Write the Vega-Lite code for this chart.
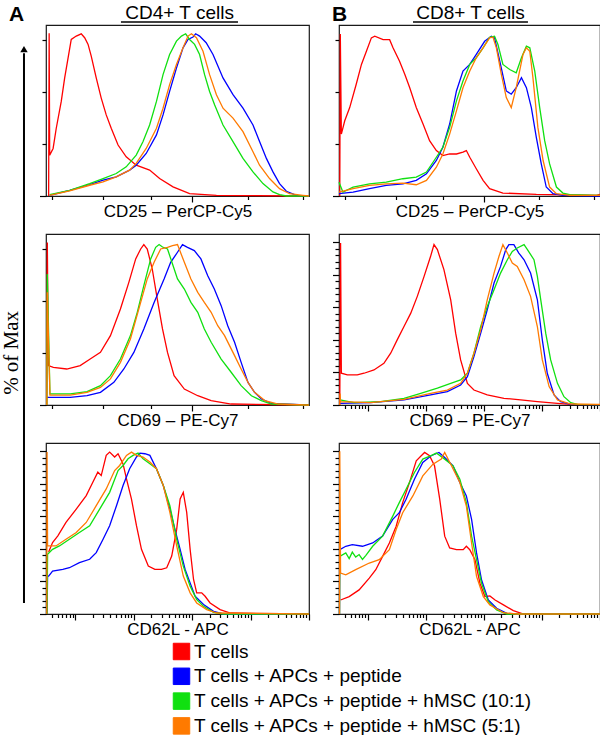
{
"$schema": "https://vega.github.io/schema/vega-lite/v6.json",
"padding": {"left": 0, "top": 3, "right": 0, "bottom": 0},
"background": "white",
"datasets": {"curves": [
{"panel":"A1","group":"T","x":1.0,"y":0},{"panel":"A1","group":"T","x":1.2,"y":99.9},{"panel":"A1","group":"T","x":1.4,"y":25.1},{"panel":"A1","group":"T","x":2.7,"y":29.2},{"panel":"A1","group":"T","x":3.9,"y":41.6},{"panel":"A1","group":"T","x":5.8,"y":58.1},{"panel":"A1","group":"T","x":7.1,"y":72.5},{"panel":"A1","group":"T","x":8.4,"y":84.8},{"panel":"A1","group":"T","x":9.6,"y":96.1},{"panel":"A1","group":"T","x":11.5,"y":98.2},{"panel":"A1","group":"T","x":13.4,"y":99.6},{"panel":"A1","group":"T","x":14.7,"y":97.2},{"panel":"A1","group":"T","x":16.0,"y":93.1},{"panel":"A1","group":"T","x":17.2,"y":85.9},{"panel":"A1","group":"T","x":19.1,"y":72.5},{"panel":"A1","group":"T","x":21.0,"y":60.1},{"panel":"A1","group":"T","x":22.9,"y":49.8},{"panel":"A1","group":"T","x":24.8,"y":41.6},{"panel":"A1","group":"T","x":27.4,"y":31.3},{"panel":"A1","group":"T","x":30.5,"y":24.1},{"panel":"A1","group":"T","x":34.3,"y":18.9},{"panel":"A1","group":"T","x":39.4,"y":15.9},{"panel":"A1","group":"T","x":43.2,"y":10.7},{"panel":"A1","group":"T","x":48.3,"y":5.6},{"panel":"A1","group":"T","x":54.6,"y":1.4},{"panel":"A1","group":"T","x":64.8,"y":0.4},{"panel":"A1","group":"T","x":100,"y":0},
{"panel":"A1","group":"P","x":1.4,"y":0.4},{"panel":"A1","group":"P","x":9.0,"y":3.5},{"panel":"A1","group":"P","x":16.6,"y":7.0},{"panel":"A1","group":"P","x":21.7,"y":9.7},{"panel":"A1","group":"P","x":26.7,"y":11.7},{"panel":"A1","group":"P","x":31.8,"y":15.9},{"panel":"A1","group":"P","x":34.3,"y":18.9},{"panel":"A1","group":"P","x":38.1,"y":26.1},{"panel":"A1","group":"P","x":42.0,"y":37.5},{"panel":"A1","group":"P","x":44.5,"y":49.8},{"panel":"A1","group":"P","x":47.0,"y":64.2},{"panel":"A1","group":"P","x":49.6,"y":78.6},{"panel":"A1","group":"P","x":52.1,"y":91.0},{"panel":"A1","group":"P","x":54.0,"y":96.1},{"panel":"A1","group":"P","x":55.9,"y":97.6},{"panel":"A1","group":"P","x":56.9,"y":99.6},{"panel":"A1","group":"P","x":58.4,"y":98.2},{"panel":"A1","group":"P","x":60.9,"y":94.1},{"panel":"A1","group":"P","x":63.5,"y":86.9},{"panel":"A1","group":"P","x":67.3,"y":72.5},{"panel":"A1","group":"P","x":71.1,"y":62.2},{"panel":"A1","group":"P","x":74.9,"y":53.9},{"panel":"A1","group":"P","x":78.7,"y":43.6},{"panel":"A1","group":"P","x":81.2,"y":33.4},{"panel":"A1","group":"P","x":83.8,"y":23.1},{"panel":"A1","group":"P","x":86.3,"y":14.8},{"panel":"A1","group":"P","x":88.8,"y":7.6},{"panel":"A1","group":"P","x":91.4,"y":2.9},{"panel":"A1","group":"P","x":95.2,"y":0.4},{"panel":"A1","group":"P","x":100,"y":0},
{"panel":"A1","group":"H10","x":1.4,"y":0.8},{"panel":"A1","group":"H10","x":9.0,"y":3.5},{"panel":"A1","group":"H10","x":16.6,"y":7.6},{"panel":"A1","group":"H10","x":21.7,"y":10.7},{"panel":"A1","group":"H10","x":26.7,"y":13.8},{"panel":"A1","group":"H10","x":30.5,"y":17.9},{"panel":"A1","group":"H10","x":34.3,"y":25.1},{"panel":"A1","group":"H10","x":36.9,"y":33.4},{"panel":"A1","group":"H10","x":39.4,"y":43.6},{"panel":"A1","group":"H10","x":42.0,"y":58.1},{"panel":"A1","group":"H10","x":44.5,"y":74.5},{"panel":"A1","group":"H10","x":47.0,"y":86.9},{"panel":"A1","group":"H10","x":49.6,"y":95.1},{"panel":"A1","group":"H10","x":51.5,"y":98.2},{"panel":"A1","group":"H10","x":53.1,"y":99.6},{"panel":"A1","group":"H10","x":54.6,"y":96.1},{"panel":"A1","group":"H10","x":56.5,"y":93.1},{"panel":"A1","group":"H10","x":58.4,"y":86.9},{"panel":"A1","group":"H10","x":60.3,"y":74.5},{"panel":"A1","group":"H10","x":62.2,"y":64.2},{"panel":"A1","group":"H10","x":64.1,"y":56.0},{"panel":"A1","group":"H10","x":67.3,"y":43.6},{"panel":"A1","group":"H10","x":71.1,"y":33.4},{"panel":"A1","group":"H10","x":74.9,"y":23.1},{"panel":"A1","group":"H10","x":78.7,"y":14.8},{"panel":"A1","group":"H10","x":82.5,"y":7.6},{"panel":"A1","group":"H10","x":86.3,"y":2.5},{"panel":"A1","group":"H10","x":88.8,"y":0.8},{"panel":"A1","group":"H10","x":91.4,"y":0},{"panel":"A1","group":"H10","x":100,"y":0},
{"panel":"A1","group":"H5","x":1.4,"y":0.4},{"panel":"A1","group":"H5","x":9.0,"y":3.1},{"panel":"A1","group":"H5","x":16.6,"y":6.6},{"panel":"A1","group":"H5","x":21.7,"y":8.7},{"panel":"A1","group":"H5","x":26.7,"y":11.7},{"panel":"A1","group":"H5","x":31.8,"y":15.9},{"panel":"A1","group":"H5","x":34.3,"y":20.0},{"panel":"A1","group":"H5","x":38.1,"y":29.2},{"panel":"A1","group":"H5","x":42.0,"y":41.6},{"panel":"A1","group":"H5","x":44.5,"y":53.9},{"panel":"A1","group":"H5","x":47.0,"y":68.4},{"panel":"A1","group":"H5","x":49.6,"y":80.7},{"panel":"A1","group":"H5","x":52.1,"y":91.0},{"panel":"A1","group":"H5","x":54.0,"y":98.2},{"panel":"A1","group":"H5","x":55.3,"y":99.6},{"panel":"A1","group":"H5","x":57.2,"y":97.2},{"panel":"A1","group":"H5","x":59.7,"y":88.9},{"panel":"A1","group":"H5","x":62.2,"y":74.5},{"panel":"A1","group":"H5","x":64.8,"y":62.2},{"panel":"A1","group":"H5","x":67.3,"y":53.9},{"panel":"A1","group":"H5","x":71.1,"y":47.8},{"panel":"A1","group":"H5","x":74.9,"y":39.5},{"panel":"A1","group":"H5","x":78.7,"y":27.2},{"panel":"A1","group":"H5","x":81.2,"y":18.9},{"panel":"A1","group":"H5","x":85.0,"y":10.7},{"panel":"A1","group":"H5","x":88.8,"y":4.5},{"panel":"A1","group":"H5","x":92.6,"y":1.4},{"panel":"A1","group":"H5","x":97.7,"y":0.4},{"panel":"A1","group":"H5","x":100,"y":0},
{"panel":"B1","group":"T","x":0.3,"y":0},{"panel":"B1","group":"T","x":0.5,"y":99.5},{"panel":"B1","group":"T","x":0.9,"y":38.0},{"panel":"B1","group":"T","x":2.2,"y":46.2},{"panel":"B1","group":"T","x":4.1,"y":54.3},{"panel":"B1","group":"T","x":6.6,"y":68.6},{"panel":"B1","group":"T","x":8.6,"y":80.8},{"panel":"B1","group":"T","x":10.5,"y":88.9},{"panel":"B1","group":"T","x":12.4,"y":97.1},{"panel":"B1","group":"T","x":13.7,"y":98.1},{"panel":"B1","group":"T","x":16.9,"y":96.0},{"panel":"B1","group":"T","x":19.4,"y":96.0},{"panel":"B1","group":"T","x":20.7,"y":91.0},{"panel":"B1","group":"T","x":23.2,"y":82.8},{"panel":"B1","group":"T","x":25.2,"y":74.7},{"panel":"B1","group":"T","x":27.1,"y":66.5},{"panel":"B1","group":"T","x":29.6,"y":54.3},{"panel":"B1","group":"T","x":32.2,"y":44.2},{"panel":"B1","group":"T","x":34.7,"y":34.0},{"panel":"B1","group":"T","x":37.3,"y":27.9},{"panel":"B1","group":"T","x":39.8,"y":24.8},{"panel":"B1","group":"T","x":42.4,"y":25.8},{"panel":"B1","group":"T","x":45.0,"y":25.8},{"panel":"B1","group":"T","x":47.5,"y":26.9},{"panel":"B1","group":"T","x":48.8,"y":27.9},{"panel":"B1","group":"T","x":50.1,"y":23.8},{"panel":"B1","group":"T","x":52.6,"y":16.7},{"panel":"B1","group":"T","x":55.2,"y":9.6},{"panel":"B1","group":"T","x":57.7,"y":4.5},{"panel":"B1","group":"T","x":62.8,"y":1.8},{"panel":"B1","group":"T","x":75.6,"y":1.0},{"panel":"B1","group":"T","x":98.6,"y":0.4},{"panel":"B1","group":"T","x":100,"y":1.0},
{"panel":"B1","group":"P","x":0,"y":1.4},{"panel":"B1","group":"P","x":5.4,"y":2.4},{"panel":"B1","group":"P","x":11.7,"y":4.5},{"panel":"B1","group":"P","x":18.1,"y":6.5},{"panel":"B1","group":"P","x":24.5,"y":7.5},{"panel":"B1","group":"P","x":29.6,"y":9.6},{"panel":"B1","group":"P","x":33.5,"y":13.6},{"panel":"B1","group":"P","x":37.3,"y":21.8},{"panel":"B1","group":"P","x":39.8,"y":29.9},{"panel":"B1","group":"P","x":42.4,"y":44.2},{"panel":"B1","group":"P","x":45.0,"y":64.5},{"panel":"B1","group":"P","x":47.5,"y":76.7},{"panel":"B1","group":"P","x":50.1,"y":80.8},{"panel":"B1","group":"P","x":52.6,"y":86.9},{"panel":"B1","group":"P","x":55.8,"y":95.0},{"panel":"B1","group":"P","x":58.4,"y":98.1},{"panel":"B1","group":"P","x":59.6,"y":97.1},{"panel":"B1","group":"P","x":61.6,"y":82.8},{"panel":"B1","group":"P","x":64.1,"y":64.5},{"panel":"B1","group":"P","x":66.0,"y":62.5},{"panel":"B1","group":"P","x":67.9,"y":66.5},{"panel":"B1","group":"P","x":69.9,"y":72.7},{"panel":"B1","group":"P","x":71.8,"y":66.5},{"panel":"B1","group":"P","x":73.7,"y":54.3},{"panel":"B1","group":"P","x":75.6,"y":36.0},{"panel":"B1","group":"P","x":77.5,"y":19.7},{"panel":"B1","group":"P","x":79.4,"y":5.5},{"panel":"B1","group":"P","x":82.0,"y":1.4},{"panel":"B1","group":"P","x":85.8,"y":0.4},{"panel":"B1","group":"P","x":100,"y":0},
{"panel":"B1","group":"H10","x":0,"y":8.5},{"panel":"B1","group":"H10","x":1.5,"y":2.4},{"panel":"B1","group":"H10","x":5.4,"y":5.5},{"panel":"B1","group":"H10","x":11.7,"y":7.5},{"panel":"B1","group":"H10","x":18.1,"y":8.5},{"panel":"B1","group":"H10","x":24.5,"y":10.6},{"panel":"B1","group":"H10","x":29.6,"y":11.6},{"panel":"B1","group":"H10","x":33.5,"y":14.7},{"panel":"B1","group":"H10","x":37.3,"y":23.8},{"panel":"B1","group":"H10","x":39.8,"y":29.9},{"panel":"B1","group":"H10","x":42.4,"y":42.1},{"panel":"B1","group":"H10","x":45.0,"y":58.4},{"panel":"B1","group":"H10","x":47.5,"y":70.6},{"panel":"B1","group":"H10","x":50.1,"y":80.8},{"panel":"B1","group":"H10","x":52.6,"y":84.9},{"panel":"B1","group":"H10","x":55.2,"y":91.0},{"panel":"B1","group":"H10","x":57.7,"y":97.5},{"panel":"B1","group":"H10","x":59.6,"y":98.1},{"panel":"B1","group":"H10","x":60.9,"y":93.0},{"panel":"B1","group":"H10","x":62.8,"y":80.8},{"panel":"B1","group":"H10","x":65.4,"y":77.7},{"panel":"B1","group":"H10","x":67.9,"y":75.7},{"panel":"B1","group":"H10","x":69.9,"y":84.9},{"panel":"B1","group":"H10","x":71.8,"y":92.0},{"panel":"B1","group":"H10","x":73.1,"y":91.0},{"panel":"B1","group":"H10","x":75.0,"y":76.7},{"panel":"B1","group":"H10","x":76.9,"y":54.3},{"panel":"B1","group":"H10","x":78.8,"y":34.0},{"panel":"B1","group":"H10","x":80.7,"y":19.7},{"panel":"B1","group":"H10","x":83.3,"y":5.5},{"panel":"B1","group":"H10","x":85.8,"y":1.8},{"panel":"B1","group":"H10","x":88.4,"y":0.8},{"panel":"B1","group":"H10","x":100,"y":0.4},
{"panel":"B1","group":"H5","x":0,"y":2.4},{"panel":"B1","group":"H5","x":5.4,"y":4.5},{"panel":"B1","group":"H5","x":11.7,"y":6.5},{"panel":"B1","group":"H5","x":18.1,"y":7.5},{"panel":"B1","group":"H5","x":24.5,"y":7.9},{"panel":"B1","group":"H5","x":29.6,"y":6.9},{"panel":"B1","group":"H5","x":33.5,"y":9.6},{"panel":"B1","group":"H5","x":37.3,"y":17.7},{"panel":"B1","group":"H5","x":39.8,"y":25.8},{"panel":"B1","group":"H5","x":42.4,"y":38.0},{"panel":"B1","group":"H5","x":45.0,"y":52.3},{"panel":"B1","group":"H5","x":47.5,"y":66.5},{"panel":"B1","group":"H5","x":50.1,"y":76.7},{"panel":"B1","group":"H5","x":52.6,"y":84.9},{"panel":"B1","group":"H5","x":55.2,"y":91.0},{"panel":"B1","group":"H5","x":57.7,"y":97.1},{"panel":"B1","group":"H5","x":59.0,"y":97.5},{"panel":"B1","group":"H5","x":60.3,"y":91.0},{"panel":"B1","group":"H5","x":62.2,"y":74.7},{"panel":"B1","group":"H5","x":64.1,"y":60.4},{"panel":"B1","group":"H5","x":66.0,"y":54.3},{"panel":"B1","group":"H5","x":67.9,"y":66.5},{"panel":"B1","group":"H5","x":70.5,"y":86.9},{"panel":"B1","group":"H5","x":71.8,"y":91.0},{"panel":"B1","group":"H5","x":73.1,"y":88.9},{"panel":"B1","group":"H5","x":74.3,"y":72.7},{"panel":"B1","group":"H5","x":76.2,"y":42.1},{"panel":"B1","group":"H5","x":78.2,"y":21.8},{"panel":"B1","group":"H5","x":80.7,"y":5.5},{"panel":"B1","group":"H5","x":83.3,"y":1.4},{"panel":"B1","group":"H5","x":88.4,"y":0.4},{"panel":"B1","group":"H5","x":100,"y":0.4},
{"panel":"A2","group":"T","x":0.3,"y":0},{"panel":"A2","group":"T","x":0.5,"y":99.8},{"panel":"A2","group":"T","x":0.9,"y":24.2},{"panel":"A2","group":"T","x":2.8,"y":23.1},{"panel":"A2","group":"T","x":7.9,"y":22.1},{"panel":"A2","group":"T","x":13.0,"y":24.2},{"panel":"A2","group":"T","x":16.8,"y":28.2},{"panel":"A2","group":"T","x":20.7,"y":32.3},{"panel":"A2","group":"T","x":24.5,"y":42.6},{"panel":"A2","group":"T","x":28.3,"y":59.0},{"panel":"A2","group":"T","x":31.5,"y":75.3},{"panel":"A2","group":"T","x":34.1,"y":89.7},{"panel":"A2","group":"T","x":36.0,"y":95.8},{"panel":"A2","group":"T","x":37.2,"y":98.5},{"panel":"A2","group":"T","x":38.5,"y":95.8},{"panel":"A2","group":"T","x":40.4,"y":83.5},{"panel":"A2","group":"T","x":42.3,"y":65.1},{"panel":"A2","group":"T","x":44.3,"y":46.7},{"panel":"A2","group":"T","x":46.2,"y":32.3},{"panel":"A2","group":"T","x":48.7,"y":18.0},{"panel":"A2","group":"T","x":52.6,"y":9.8},{"panel":"A2","group":"T","x":57.7,"y":5.7},{"panel":"A2","group":"T","x":62.8,"y":2.7},{"panel":"A2","group":"T","x":70.4,"y":0.6},{"panel":"A2","group":"T","x":98.5,"y":0},{"panel":"A2","group":"T","x":100,"y":0},
{"panel":"A2","group":"P","x":0.5,"y":4.7},{"panel":"A2","group":"P","x":9.2,"y":4.7},{"panel":"A2","group":"P","x":15.6,"y":5.7},{"panel":"A2","group":"P","x":20.7,"y":7.8},{"panel":"A2","group":"P","x":25.8,"y":13.9},{"panel":"A2","group":"P","x":29.6,"y":22.1},{"panel":"A2","group":"P","x":33.4,"y":32.3},{"panel":"A2","group":"P","x":37.2,"y":46.7},{"panel":"A2","group":"P","x":41.1,"y":63.0},{"panel":"A2","group":"P","x":44.9,"y":77.4},{"panel":"A2","group":"P","x":47.4,"y":87.6},{"panel":"A2","group":"P","x":50.0,"y":93.8},{"panel":"A2","group":"P","x":51.9,"y":98.5},{"panel":"A2","group":"P","x":53.8,"y":96.8},{"panel":"A2","group":"P","x":56.4,"y":94.8},{"panel":"A2","group":"P","x":58.9,"y":89.7},{"panel":"A2","group":"P","x":61.5,"y":79.4},{"panel":"A2","group":"P","x":64.0,"y":71.2},{"panel":"A2","group":"P","x":66.6,"y":61.0},{"panel":"A2","group":"P","x":69.1,"y":48.7},{"panel":"A2","group":"P","x":71.7,"y":38.5},{"panel":"A2","group":"P","x":74.2,"y":26.2},{"panel":"A2","group":"P","x":76.8,"y":13.9},{"panel":"A2","group":"P","x":79.3,"y":7.8},{"panel":"A2","group":"P","x":81.9,"y":3.7},{"panel":"A2","group":"P","x":85.7,"y":1.0},{"panel":"A2","group":"P","x":98.5,"y":0},{"panel":"A2","group":"P","x":100,"y":0},
{"panel":"A2","group":"H10","x":0.3,"y":0},{"panel":"A2","group":"H10","x":0.5,"y":80.4},{"panel":"A2","group":"H10","x":1.5,"y":6.8},{"panel":"A2","group":"H10","x":9.2,"y":6.8},{"panel":"A2","group":"H10","x":15.6,"y":8.2},{"panel":"A2","group":"H10","x":20.7,"y":11.9},{"panel":"A2","group":"H10","x":24.5,"y":18.0},{"panel":"A2","group":"H10","x":28.3,"y":28.2},{"panel":"A2","group":"H10","x":32.1,"y":42.6},{"panel":"A2","group":"H10","x":34.7,"y":56.9},{"panel":"A2","group":"H10","x":37.2,"y":73.3},{"panel":"A2","group":"H10","x":39.8,"y":89.7},{"panel":"A2","group":"H10","x":41.7,"y":96.8},{"panel":"A2","group":"H10","x":43.0,"y":98.5},{"panel":"A2","group":"H10","x":44.3,"y":97.0},{"panel":"A2","group":"H10","x":46.2,"y":95.8},{"panel":"A2","group":"H10","x":48.1,"y":86.6},{"panel":"A2","group":"H10","x":50.0,"y":77.4},{"panel":"A2","group":"H10","x":52.6,"y":71.2},{"panel":"A2","group":"H10","x":55.1,"y":63.0},{"panel":"A2","group":"H10","x":57.7,"y":56.9},{"panel":"A2","group":"H10","x":60.2,"y":46.7},{"panel":"A2","group":"H10","x":62.8,"y":38.5},{"panel":"A2","group":"H10","x":66.6,"y":28.2},{"panel":"A2","group":"H10","x":70.4,"y":20.1},{"panel":"A2","group":"H10","x":74.2,"y":11.9},{"panel":"A2","group":"H10","x":78.1,"y":5.7},{"panel":"A2","group":"H10","x":81.9,"y":2.7},{"panel":"A2","group":"H10","x":85.7,"y":0.6},{"panel":"A2","group":"H10","x":98.5,"y":0},{"panel":"A2","group":"H10","x":100,"y":0},
{"panel":"A2","group":"H5","x":0.3,"y":0},{"panel":"A2","group":"H5","x":0.5,"y":69.2},{"panel":"A2","group":"H5","x":1.5,"y":6.1},{"panel":"A2","group":"H5","x":9.2,"y":6.1},{"panel":"A2","group":"H5","x":15.6,"y":7.8},{"panel":"A2","group":"H5","x":20.7,"y":10.8},{"panel":"A2","group":"H5","x":24.5,"y":16.0},{"panel":"A2","group":"H5","x":28.3,"y":26.2},{"panel":"A2","group":"H5","x":32.1,"y":40.5},{"panel":"A2","group":"H5","x":36.0,"y":63.0},{"panel":"A2","group":"H5","x":38.5,"y":77.4},{"panel":"A2","group":"H5","x":41.1,"y":87.6},{"panel":"A2","group":"H5","x":43.6,"y":95.8},{"panel":"A2","group":"H5","x":46.2,"y":96.8},{"panel":"A2","group":"H5","x":48.1,"y":97.9},{"panel":"A2","group":"H5","x":50.0,"y":98.5},{"panel":"A2","group":"H5","x":52.6,"y":87.6},{"panel":"A2","group":"H5","x":55.1,"y":77.4},{"panel":"A2","group":"H5","x":57.7,"y":69.2},{"panel":"A2","group":"H5","x":60.2,"y":63.0},{"panel":"A2","group":"H5","x":62.8,"y":56.9},{"panel":"A2","group":"H5","x":65.3,"y":48.7},{"panel":"A2","group":"H5","x":67.9,"y":42.6},{"panel":"A2","group":"H5","x":71.7,"y":30.3},{"panel":"A2","group":"H5","x":74.2,"y":22.1},{"panel":"A2","group":"H5","x":76.8,"y":13.9},{"panel":"A2","group":"H5","x":79.3,"y":7.8},{"panel":"A2","group":"H5","x":83.2,"y":2.7},{"panel":"A2","group":"H5","x":88.3,"y":0.6},{"panel":"A2","group":"H5","x":98.5,"y":0},{"panel":"A2","group":"H5","x":100,"y":0},
{"panel":"B2","group":"T","x":0.3,"y":0},{"panel":"B2","group":"T","x":0.6,"y":99.5},{"panel":"B2","group":"T","x":0.9,"y":19.5},{"panel":"B2","group":"T","x":3.2,"y":18.5},{"panel":"B2","group":"T","x":7.0,"y":18.5},{"panel":"B2","group":"T","x":9.6,"y":19.5},{"panel":"B2","group":"T","x":13.4,"y":21.5},{"panel":"B2","group":"T","x":17.2,"y":25.6},{"panel":"B2","group":"T","x":19.8,"y":31.8},{"panel":"B2","group":"T","x":22.3,"y":40.0},{"panel":"B2","group":"T","x":24.9,"y":48.2},{"panel":"B2","group":"T","x":27.5,"y":56.4},{"panel":"B2","group":"T","x":30.0,"y":66.7},{"panel":"B2","group":"T","x":32.6,"y":79.0},{"panel":"B2","group":"T","x":35.1,"y":91.3},{"panel":"B2","group":"T","x":36.4,"y":98.5},{"panel":"B2","group":"T","x":37.7,"y":95.4},{"panel":"B2","group":"T","x":40.2,"y":83.1},{"panel":"B2","group":"T","x":42.8,"y":64.6},{"panel":"B2","group":"T","x":44.7,"y":44.1},{"panel":"B2","group":"T","x":46.6,"y":27.7},{"panel":"B2","group":"T","x":49.2,"y":13.3},{"panel":"B2","group":"T","x":51.7,"y":9.2},{"panel":"B2","group":"T","x":56.8,"y":6.2},{"panel":"B2","group":"T","x":63.2,"y":4.1},{"panel":"B2","group":"T","x":69.6,"y":3.1},{"panel":"B2","group":"T","x":76.0,"y":2.1},{"panel":"B2","group":"T","x":83.7,"y":1.0},{"panel":"B2","group":"T","x":88.8,"y":0.4},{"panel":"B2","group":"T","x":100,"y":0.2},
{"panel":"B2","group":"P","x":0.4,"y":1.0},{"panel":"B2","group":"P","x":12.1,"y":1.4},{"panel":"B2","group":"P","x":24.9,"y":3.1},{"panel":"B2","group":"P","x":35.1,"y":6.2},{"panel":"B2","group":"P","x":41.5,"y":8.2},{"panel":"B2","group":"P","x":46.6,"y":12.3},{"panel":"B2","group":"P","x":49.2,"y":17.4},{"panel":"B2","group":"P","x":51.7,"y":29.7},{"panel":"B2","group":"P","x":54.3,"y":44.1},{"panel":"B2","group":"P","x":56.8,"y":58.5},{"panel":"B2","group":"P","x":59.4,"y":74.9},{"panel":"B2","group":"P","x":61.9,"y":85.1},{"panel":"B2","group":"P","x":63.9,"y":95.4},{"panel":"B2","group":"P","x":65.1,"y":98.5},{"panel":"B2","group":"P","x":67.0,"y":98.5},{"panel":"B2","group":"P","x":68.9,"y":93.3},{"panel":"B2","group":"P","x":70.9,"y":89.2},{"panel":"B2","group":"P","x":73.4,"y":81.0},{"panel":"B2","group":"P","x":76.0,"y":64.6},{"panel":"B2","group":"P","x":77.9,"y":40.0},{"panel":"B2","group":"P","x":79.8,"y":19.5},{"panel":"B2","group":"P","x":82.4,"y":6.2},{"panel":"B2","group":"P","x":84.9,"y":2.1},{"panel":"B2","group":"P","x":88.8,"y":0.4},{"panel":"B2","group":"P","x":100,"y":0.2},
{"panel":"B2","group":"H10","x":0.4,"y":3.1},{"panel":"B2","group":"H10","x":5.7,"y":1.4},{"panel":"B2","group":"H10","x":16.0,"y":2.1},{"panel":"B2","group":"H10","x":24.9,"y":4.1},{"panel":"B2","group":"H10","x":31.3,"y":7.2},{"panel":"B2","group":"H10","x":37.7,"y":10.3},{"panel":"B2","group":"H10","x":42.8,"y":13.3},{"panel":"B2","group":"H10","x":46.6,"y":15.4},{"panel":"B2","group":"H10","x":49.2,"y":19.5},{"panel":"B2","group":"H10","x":51.7,"y":31.8},{"panel":"B2","group":"H10","x":54.3,"y":48.2},{"panel":"B2","group":"H10","x":56.8,"y":60.5},{"panel":"B2","group":"H10","x":59.4,"y":70.8},{"panel":"B2","group":"H10","x":61.9,"y":81.0},{"panel":"B2","group":"H10","x":64.5,"y":89.2},{"panel":"B2","group":"H10","x":66.4,"y":94.3},{"panel":"B2","group":"H10","x":68.3,"y":96.4},{"panel":"B2","group":"H10","x":70.9,"y":98.5},{"panel":"B2","group":"H10","x":72.2,"y":95.4},{"panel":"B2","group":"H10","x":74.7,"y":89.2},{"panel":"B2","group":"H10","x":76.0,"y":79.0},{"panel":"B2","group":"H10","x":77.3,"y":64.6},{"panel":"B2","group":"H10","x":79.2,"y":44.1},{"panel":"B2","group":"H10","x":81.1,"y":27.7},{"panel":"B2","group":"H10","x":83.7,"y":13.3},{"panel":"B2","group":"H10","x":86.2,"y":5.1},{"panel":"B2","group":"H10","x":88.8,"y":1.4},{"panel":"B2","group":"H10","x":91.3,"y":0.4},{"panel":"B2","group":"H10","x":100,"y":0.2},
{"panel":"B2","group":"H5","x":0.3,"y":0},{"panel":"B2","group":"H5","x":0.4,"y":7.0},{"panel":"B2","group":"H5","x":0.6,"y":2.0},{"panel":"B2","group":"H5","x":12.1,"y":1.4},{"panel":"B2","group":"H5","x":24.9,"y":3.5},{"panel":"B2","group":"H5","x":35.1,"y":7.2},{"panel":"B2","group":"H5","x":41.5,"y":9.2},{"panel":"B2","group":"H5","x":46.6,"y":13.3},{"panel":"B2","group":"H5","x":49.2,"y":19.5},{"panel":"B2","group":"H5","x":51.7,"y":31.8},{"panel":"B2","group":"H5","x":54.3,"y":46.1},{"panel":"B2","group":"H5","x":56.8,"y":64.6},{"panel":"B2","group":"H5","x":59.4,"y":81.0},{"panel":"B2","group":"H5","x":61.3,"y":91.3},{"panel":"B2","group":"H5","x":62.8,"y":98.5},{"panel":"B2","group":"H5","x":64.5,"y":93.3},{"panel":"B2","group":"H5","x":66.4,"y":87.2},{"panel":"B2","group":"H5","x":68.3,"y":85.1},{"panel":"B2","group":"H5","x":70.9,"y":76.9},{"panel":"B2","group":"H5","x":73.4,"y":66.7},{"panel":"B2","group":"H5","x":76.0,"y":48.2},{"panel":"B2","group":"H5","x":77.9,"y":27.7},{"panel":"B2","group":"H5","x":80.5,"y":11.3},{"panel":"B2","group":"H5","x":83.7,"y":3.1},{"panel":"B2","group":"H5","x":88.8,"y":0.6},{"panel":"B2","group":"H5","x":99.0,"y":0.4},{"panel":"B2","group":"H5","x":100,"y":0.4},
{"panel":"A3","group":"T","x":1.0,"y":38},{"panel":"A3","group":"T","x":2.5,"y":43.9},{"panel":"A3","group":"T","x":4.5,"y":48.0},{"panel":"A3","group":"T","x":7.6,"y":56.2},{"panel":"A3","group":"T","x":11.5,"y":64.4},{"panel":"A3","group":"T","x":15.3,"y":72.7},{"panel":"A3","group":"T","x":17.8,"y":80.9},{"panel":"A3","group":"T","x":19.7,"y":87.1},{"panel":"A3","group":"T","x":21.0,"y":85.0},{"panel":"A3","group":"T","x":22.9,"y":97.4},{"panel":"A3","group":"T","x":24.2,"y":99.4},{"panel":"A3","group":"T","x":26.1,"y":96.4},{"panel":"A3","group":"T","x":27.4,"y":98.4},{"panel":"A3","group":"T","x":29.3,"y":92.2},{"panel":"A3","group":"T","x":30.6,"y":83.0},{"panel":"A3","group":"T","x":32.5,"y":70.6},{"panel":"A3","group":"T","x":34.4,"y":54.2},{"panel":"A3","group":"T","x":36.3,"y":39.7},{"panel":"A3","group":"T","x":38.9,"y":29.4},{"panel":"A3","group":"T","x":41.4,"y":27.4},{"panel":"A3","group":"T","x":43.9,"y":27.4},{"panel":"A3","group":"T","x":45.9,"y":28.4},{"panel":"A3","group":"T","x":47.8,"y":35.6},{"panel":"A3","group":"T","x":49.7,"y":52.1},{"panel":"A3","group":"T","x":51.0,"y":70.6},{"panel":"A3","group":"T","x":52.2,"y":74.7},{"panel":"A3","group":"T","x":53.5,"y":62.4},{"panel":"A3","group":"T","x":54.8,"y":39.7},{"panel":"A3","group":"T","x":56.1,"y":21.2},{"panel":"A3","group":"T","x":57.3,"y":13.0},{"panel":"A3","group":"T","x":59.2,"y":13.0},{"panel":"A3","group":"T","x":60.5,"y":10.9},{"panel":"A3","group":"T","x":62.4,"y":6.8},{"panel":"A3","group":"T","x":66.2,"y":2.7},{"panel":"A3","group":"T","x":70.1,"y":0.6},{"panel":"A3","group":"T","x":99.4,"y":0},{"panel":"A3","group":"T","x":100,"y":0},
{"panel":"A3","group":"P","x":0.4,"y":0},{"panel":"A3","group":"P","x":0.6,"y":23.3},{"panel":"A3","group":"P","x":1.0,"y":23.3},{"panel":"A3","group":"P","x":2.5,"y":26.4},{"panel":"A3","group":"P","x":6.4,"y":27.4},{"panel":"A3","group":"P","x":8.9,"y":28.4},{"panel":"A3","group":"P","x":12.7,"y":31.5},{"panel":"A3","group":"P","x":16.6,"y":33.6},{"panel":"A3","group":"P","x":19.1,"y":37.7},{"panel":"A3","group":"P","x":21.7,"y":45.9},{"panel":"A3","group":"P","x":24.2,"y":54.2},{"panel":"A3","group":"P","x":26.8,"y":66.5},{"panel":"A3","group":"P","x":29.3,"y":78.9},{"panel":"A3","group":"P","x":31.8,"y":89.2},{"panel":"A3","group":"P","x":34.4,"y":96.4},{"panel":"A3","group":"P","x":35.7,"y":98.8},{"panel":"A3","group":"P","x":37.6,"y":98.4},{"panel":"A3","group":"P","x":39.5,"y":97.4},{"panel":"A3","group":"P","x":42.0,"y":89.2},{"panel":"A3","group":"P","x":44.6,"y":78.9},{"panel":"A3","group":"P","x":47.1,"y":64.4},{"panel":"A3","group":"P","x":49.0,"y":52.1},{"panel":"A3","group":"P","x":51.0,"y":39.7},{"panel":"A3","group":"P","x":52.9,"y":27.4},{"panel":"A3","group":"P","x":54.8,"y":19.1},{"panel":"A3","group":"P","x":56.7,"y":10.9},{"panel":"A3","group":"P","x":59.9,"y":5.8},{"panel":"A3","group":"P","x":63.7,"y":1.6},{"panel":"A3","group":"P","x":67.5,"y":0},{"panel":"A3","group":"P","x":100,"y":0},
{"panel":"A3","group":"H10","x":0.4,"y":0},{"panel":"A3","group":"H10","x":0.6,"y":36.6},{"panel":"A3","group":"H10","x":2.5,"y":39.7},{"panel":"A3","group":"H10","x":5.1,"y":41.8},{"panel":"A3","group":"H10","x":8.9,"y":45.9},{"panel":"A3","group":"H10","x":12.7,"y":50.0},{"panel":"A3","group":"H10","x":16.6,"y":54.2},{"panel":"A3","group":"H10","x":20.4,"y":64.4},{"panel":"A3","group":"H10","x":24.2,"y":74.7},{"panel":"A3","group":"H10","x":27.4,"y":88.1},{"panel":"A3","group":"H10","x":29.3,"y":91.2},{"panel":"A3","group":"H10","x":31.2,"y":95.3},{"panel":"A3","group":"H10","x":33.1,"y":97.4},{"panel":"A3","group":"H10","x":35.0,"y":98.8},{"panel":"A3","group":"H10","x":36.9,"y":95.3},{"panel":"A3","group":"H10","x":39.5,"y":92.2},{"panel":"A3","group":"H10","x":42.0,"y":89.2},{"panel":"A3","group":"H10","x":44.6,"y":78.9},{"panel":"A3","group":"H10","x":47.1,"y":66.5},{"panel":"A3","group":"H10","x":49.7,"y":45.9},{"panel":"A3","group":"H10","x":52.2,"y":29.4},{"panel":"A3","group":"H10","x":54.8,"y":17.1},{"panel":"A3","group":"H10","x":57.3,"y":8.9},{"panel":"A3","group":"H10","x":59.9,"y":4.7},{"panel":"A3","group":"H10","x":63.7,"y":1.0},{"panel":"A3","group":"H10","x":67.5,"y":0},{"panel":"A3","group":"H10","x":100,"y":0},
{"panel":"A3","group":"H5","x":0.3,"y":0},{"panel":"A3","group":"H5","x":0.4,"y":99.4},{"panel":"A3","group":"H5","x":0.6,"y":41.8},{"panel":"A3","group":"H5","x":3.8,"y":41.8},{"panel":"A3","group":"H5","x":7.6,"y":45.9},{"panel":"A3","group":"H5","x":11.5,"y":50.0},{"panel":"A3","group":"H5","x":15.3,"y":56.2},{"panel":"A3","group":"H5","x":19.1,"y":66.5},{"panel":"A3","group":"H5","x":22.9,"y":76.8},{"panel":"A3","group":"H5","x":26.1,"y":88.1},{"panel":"A3","group":"H5","x":28.0,"y":91.2},{"panel":"A3","group":"H5","x":30.6,"y":97.4},{"panel":"A3","group":"H5","x":32.5,"y":99.4},{"panel":"A3","group":"H5","x":34.4,"y":97.4},{"panel":"A3","group":"H5","x":36.9,"y":96.4},{"panel":"A3","group":"H5","x":39.5,"y":93.3},{"panel":"A3","group":"H5","x":42.0,"y":89.2},{"panel":"A3","group":"H5","x":44.6,"y":78.9},{"panel":"A3","group":"H5","x":47.1,"y":62.4},{"panel":"A3","group":"H5","x":49.7,"y":41.8},{"panel":"A3","group":"H5","x":52.2,"y":23.3},{"panel":"A3","group":"H5","x":54.8,"y":13.0},{"panel":"A3","group":"H5","x":57.3,"y":6.8},{"panel":"A3","group":"H5","x":61.1,"y":2.7},{"panel":"A3","group":"H5","x":65.0,"y":0.6},{"panel":"A3","group":"H5","x":99.4,"y":0},{"panel":"A3","group":"H5","x":100,"y":0},
{"panel":"B3","group":"T","x":0.6,"y":8.6},{"panel":"B3","group":"T","x":3.9,"y":10.7},{"panel":"B3","group":"T","x":7.7,"y":14.8},{"panel":"B3","group":"T","x":11.6,"y":22.0},{"panel":"B3","group":"T","x":14.1,"y":27.2},{"panel":"B3","group":"T","x":16.7,"y":35.4},{"panel":"B3","group":"T","x":19.3,"y":43.6},{"panel":"B3","group":"T","x":21.9,"y":53.9},{"panel":"B3","group":"T","x":24.4,"y":68.4},{"panel":"B3","group":"T","x":27.0,"y":80.7},{"panel":"B3","group":"T","x":29.6,"y":94.1},{"panel":"B3","group":"T","x":31.5,"y":97.2},{"panel":"B3","group":"T","x":32.8,"y":99.2},{"panel":"B3","group":"T","x":34.7,"y":97.2},{"panel":"B3","group":"T","x":36.6,"y":91.0},{"panel":"B3","group":"T","x":38.6,"y":70.4},{"panel":"B3","group":"T","x":40.5,"y":47.8},{"panel":"B3","group":"T","x":42.4,"y":40.6},{"panel":"B3","group":"T","x":45.0,"y":39.5},{"panel":"B3","group":"T","x":47.6,"y":39.5},{"panel":"B3","group":"T","x":48.8,"y":41.6},{"panel":"B3","group":"T","x":50.1,"y":39.5},{"panel":"B3","group":"T","x":52.1,"y":33.4},{"panel":"B3","group":"T","x":54.0,"y":18.9},{"panel":"B3","group":"T","x":55.9,"y":10.7},{"panel":"B3","group":"T","x":57.8,"y":11.1},{"panel":"B3","group":"T","x":59.8,"y":8.6},{"panel":"B3","group":"T","x":63.0,"y":5.6},{"panel":"B3","group":"T","x":66.8,"y":2.1},{"panel":"B3","group":"T","x":70.7,"y":0},{"panel":"B3","group":"T","x":100,"y":0},
{"panel":"B3","group":"P","x":0.2,"y":0},{"panel":"B3","group":"P","x":0.3,"y":39.5},{"panel":"B3","group":"P","x":2.6,"y":41.6},{"panel":"B3","group":"P","x":5.1,"y":42.6},{"panel":"B3","group":"P","x":9.0,"y":41.6},{"panel":"B3","group":"P","x":12.9,"y":43.6},{"panel":"B3","group":"P","x":16.7,"y":47.8},{"panel":"B3","group":"P","x":20.6,"y":58.1},{"panel":"B3","group":"P","x":23.1,"y":62.2},{"panel":"B3","group":"P","x":25.7,"y":70.4},{"panel":"B3","group":"P","x":28.9,"y":82.8},{"panel":"B3","group":"P","x":32.1,"y":93.1},{"panel":"B3","group":"P","x":35.3,"y":97.2},{"panel":"B3","group":"P","x":38.3,"y":99.2},{"panel":"B3","group":"P","x":40.5,"y":96.1},{"panel":"B3","group":"P","x":43.7,"y":91.0},{"panel":"B3","group":"P","x":46.3,"y":80.7},{"panel":"B3","group":"P","x":48.8,"y":72.5},{"panel":"B3","group":"P","x":50.8,"y":58.1},{"panel":"B3","group":"P","x":52.7,"y":37.5},{"panel":"B3","group":"P","x":54.6,"y":21.0},{"panel":"B3","group":"P","x":57.2,"y":8.6},{"panel":"B3","group":"P","x":60.4,"y":3.5},{"panel":"B3","group":"P","x":64.3,"y":0.4},{"panel":"B3","group":"P","x":68.1,"y":0},{"panel":"B3","group":"P","x":100,"y":0},
{"panel":"B3","group":"H10","x":0.2,"y":0},{"panel":"B3","group":"H10","x":0.3,"y":35.4},{"panel":"B3","group":"H10","x":2.6,"y":37.5},{"panel":"B3","group":"H10","x":3.9,"y":34.0},{"panel":"B3","group":"H10","x":5.1,"y":38.0},{"panel":"B3","group":"H10","x":6.4,"y":35.0},{"panel":"B3","group":"H10","x":7.7,"y":36.5},{"panel":"B3","group":"H10","x":9.0,"y":33.5},{"panel":"B3","group":"H10","x":10.3,"y":36.0},{"panel":"B3","group":"H10","x":12.9,"y":41.6},{"panel":"B3","group":"H10","x":16.7,"y":47.8},{"panel":"B3","group":"H10","x":20.6,"y":60.1},{"panel":"B3","group":"H10","x":23.1,"y":68.4},{"panel":"B3","group":"H10","x":25.7,"y":76.6},{"panel":"B3","group":"H10","x":28.9,"y":86.9},{"panel":"B3","group":"H10","x":32.1,"y":95.1},{"panel":"B3","group":"H10","x":35.3,"y":97.2},{"panel":"B3","group":"H10","x":37.3,"y":98.8},{"panel":"B3","group":"H10","x":40.5,"y":95.1},{"panel":"B3","group":"H10","x":43.7,"y":91.0},{"panel":"B3","group":"H10","x":46.3,"y":82.8},{"panel":"B3","group":"H10","x":48.8,"y":68.4},{"panel":"B3","group":"H10","x":50.8,"y":47.8},{"panel":"B3","group":"H10","x":52.7,"y":33.4},{"panel":"B3","group":"H10","x":54.6,"y":18.9},{"panel":"B3","group":"H10","x":57.2,"y":7.6},{"panel":"B3","group":"H10","x":60.4,"y":2.5},{"panel":"B3","group":"H10","x":64.3,"y":0},{"panel":"B3","group":"H10","x":100,"y":0},
{"panel":"B3","group":"H5","x":0.2,"y":0},{"panel":"B3","group":"H5","x":0.3,"y":100},{"panel":"B3","group":"H5","x":0.6,"y":25.1},{"panel":"B3","group":"H5","x":2.6,"y":24.1},{"panel":"B3","group":"H5","x":6.4,"y":27.2},{"panel":"B3","group":"H5","x":11.6,"y":31.3},{"panel":"B3","group":"H5","x":15.4,"y":33.4},{"panel":"B3","group":"H5","x":19.3,"y":39.5},{"panel":"B3","group":"H5","x":21.9,"y":51.9},{"panel":"B3","group":"H5","x":24.4,"y":62.2},{"panel":"B3","group":"H5","x":28.3,"y":72.5},{"panel":"B3","group":"H5","x":32.1,"y":84.8},{"panel":"B3","group":"H5","x":36.0,"y":92.0},{"panel":"B3","group":"H5","x":39.2,"y":95.1},{"panel":"B3","group":"H5","x":40.5,"y":99.2},{"panel":"B3","group":"H5","x":43.1,"y":91.0},{"panel":"B3","group":"H5","x":46.3,"y":80.7},{"panel":"B3","group":"H5","x":48.8,"y":66.3},{"panel":"B3","group":"H5","x":50.8,"y":43.6},{"panel":"B3","group":"H5","x":52.7,"y":23.1},{"panel":"B3","group":"H5","x":55.3,"y":10.7},{"panel":"B3","group":"H5","x":57.8,"y":5.6},{"panel":"B3","group":"H5","x":63.0,"y":0.8},{"panel":"B3","group":"H5","x":68.1,"y":0},{"panel":"B3","group":"H5","x":100,"y":0}
]},
"columns": 2,
"spacing": {"row": 38, "column": 30},
"bounds": "flush",
"concat": [
{"width": 263, "height": 171, "layer": [
 {"data": {"name": "curves"}, "transform": [{"filter": "datum.panel === 'A1'"}], "mark": {"type": "line", "strokeWidth": 1.3},
  "encoding": {
   "x": {"field": "x", "type": "quantitative", "scale": {"domain": [0, 100], "nice": false, "zero": false}, "axis": {"title": "CD25 – PerCP-Cy5", "values": [2.27,4.42,6.18,7.67,8.96,10.09,11.11,17.8,21.71,24.49,26.64,28.4,29.89,31.18,32.32,33.33,40.02,43.94,46.71,48.87,50.62,52.11,53.4,54.54,55.56,62.25,66.16,68.94,71.09,72.84,74.33,75.62,76.77,77.78,84.47,88.38,91.16,93.31,95.07,96.55,97.84,98.99,100], "tickSize": {"condition": {"test": "datum.value === 11.11 || datum.value === 33.33 || datum.value === 55.56 || datum.value === 77.78 || datum.value === 100", "value": 6}, "value": 3.5}}},
   "y": {"field": "y", "type": "quantitative", "scale": {"domain": [0, 105], "nice": false}, "axis": {"title": null, "values": [0,4,8,12,16,20,24,28,32,36,40,44,48,52,56,60,64,68,72,76,80,84,88,92,96,100], "tickSize": {"condition": {"test": "datum.value % 20 === 0", "value": 6.5}, "value": 4}}},
   "color": {"field": "group", "type": "nominal", "scale": {"domain": ["T","P","H10","H5"], "range": ["#ff0000","#0000ff","#10e010","#ff7a00"]}, "legend": {"title": null, "orient": "none", "legendX": 126, "legendY": 617, "labelExpr": "datum.value === 'T' ? 'T cells' : datum.value === 'P' ? 'T cells + APCs + peptide' : datum.value === 'H10' ? 'T cells + APCs + peptide + hMSC (10:1)' : 'T cells + APCs + peptide + hMSC (5:1)'", "encode": {"symbols": {"update": {"fill": {"scale": "color", "field": "value"}, "fillOpacity": {"value": 1}}}}}}
  }},
 {"data": {"values": [{}]}, "mark": {"type": "text", "text": "A", "font": "Liberation Sans", "fontSize": 21, "fontWeight": "bold", "align": "left", "baseline": "alphabetic"}, "encoding": {"x": {"datum": -14.1}, "y": {"datum": 107.5}}},
 {"data": {"values": [{}]}, "mark": {"type": "text", "text": "CD4+ T cells", "font": "Liberation Sans", "fontSize": 19, "align": "center", "baseline": "alphabetic"}, "encoding": {"x": {"datum": 50.8}, "y": {"datum": 108.7}}},
 {"data": {"values": [{}]}, "mark": {"type": "rule", "strokeWidth": 1.4, "color": "black"}, "encoding": {"x": {"datum": 28.5}, "x2": {"datum": 73.0}, "y": {"datum": 106.8}}}
]},
{"width": 261, "height": 171, "layer": [
 {"data": {"name": "curves"}, "transform": [{"filter": "datum.panel === 'B1'"}], "mark": {"type": "line", "strokeWidth": 1.3},
  "encoding": {
   "x": {"field": "x", "type": "quantitative", "scale": {"domain": [0, 100], "nice": false, "zero": false}, "axis": {"title": "CD25 – PerCP-Cy5", "values": [2.27,4.42,6.18,7.67,8.96,10.09,11.11,17.8,21.71,24.49,26.64,28.4,29.89,31.18,32.32,33.33,40.02,43.94,46.71,48.87,50.62,52.11,53.4,54.54,55.56,62.25,66.16,68.94,71.09,72.84,74.33,75.62,76.77,77.78,84.47,88.38,91.16,93.31,95.07,96.55,97.84,98.99,100], "tickSize": {"condition": {"test": "datum.value === 11.11 || datum.value === 33.33 || datum.value === 55.56 || datum.value === 77.78 || datum.value === 100", "value": 6}, "value": 3.5}}},
   "y": {"field": "y", "type": "quantitative", "scale": {"domain": [0, 105], "nice": false}, "axis": {"title": null, "values": [0,4,8,12,16,20,24,28,32,36,40,44,48,52,56,60,64,68,72,76,80,84,88,92,96,100], "tickSize": {"condition": {"test": "datum.value % 20 === 0", "value": 6.5}, "value": 4}}},
   "color": {"field": "group", "type": "nominal", "scale": {"domain": ["T","P","H10","H5"], "range": ["#ff0000","#0000ff","#10e010","#ff7a00"]}, "legend": {"title": null, "orient": "none", "legendX": 126, "legendY": 617, "labelExpr": "datum.value === 'T' ? 'T cells' : datum.value === 'P' ? 'T cells + APCs + peptide' : datum.value === 'H10' ? 'T cells + APCs + peptide + hMSC (10:1)' : 'T cells + APCs + peptide + hMSC (5:1)'", "encode": {"symbols": {"update": {"fill": {"scale": "color", "field": "value"}, "fillOpacity": {"value": 1}}}}}}
  }},
 {"data": {"values": [{}]}, "mark": {"type": "text", "text": "B", "font": "Liberation Sans", "fontSize": 21, "fontWeight": "bold", "align": "left", "baseline": "alphabetic"}, "encoding": {"x": {"datum": -2.7}, "y": {"datum": 107.5}}},
 {"data": {"values": [{}]}, "mark": {"type": "text", "text": "CD8+ T cells", "font": "Liberation Sans", "fontSize": 19, "align": "center", "baseline": "alphabetic"}, "encoding": {"x": {"datum": 50.4}, "y": {"datum": 108.7}}},
 {"data": {"values": [{}]}, "mark": {"type": "rule", "strokeWidth": 1.4, "color": "black"}, "encoding": {"x": {"datum": 28.35}, "x2": {"datum": 72.4}, "y": {"datum": 106.8}}}
]},
{"width": 263, "height": 171, "layer": [
 {"data": {"name": "curves"}, "transform": [{"filter": "datum.panel === 'A2'"}], "mark": {"type": "line", "strokeWidth": 1.3},
  "encoding": {
   "x": {"field": "x", "type": "quantitative", "scale": {"domain": [0, 100], "nice": false, "zero": false}, "axis": {"title": "CD69 – PE-Cy7", "values": [2.27,4.42,6.18,7.67,8.96,10.09,11.11,17.8,21.71,24.49,26.64,28.4,29.89,31.18,32.32,33.33,40.02,43.94,46.71,48.87,50.62,52.11,53.4,54.54,55.56,62.25,66.16,68.94,71.09,72.84,74.33,75.62,76.77,77.78,84.47,88.38,91.16,93.31,95.07,96.55,97.84,98.99,100], "tickSize": {"condition": {"test": "datum.value === 11.11 || datum.value === 33.33 || datum.value === 55.56 || datum.value === 77.78 || datum.value === 100", "value": 6}, "value": 3.5}}},
   "y": {"field": "y", "type": "quantitative", "scale": {"domain": [0, 105], "nice": false}, "axis": {"title": null, "values": [0,4,8,12,16,20,24,28,32,36,40,44,48,52,56,60,64,68,72,76,80,84,88,92,96,100], "tickSize": {"condition": {"test": "datum.value % 20 === 0", "value": 6.5}, "value": 4}}},
   "color": {"field": "group", "type": "nominal", "scale": {"domain": ["T","P","H10","H5"], "range": ["#ff0000","#0000ff","#10e010","#ff7a00"]}, "legend": {"title": null, "orient": "none", "legendX": 126, "legendY": 617, "labelExpr": "datum.value === 'T' ? 'T cells' : datum.value === 'P' ? 'T cells + APCs + peptide' : datum.value === 'H10' ? 'T cells + APCs + peptide + hMSC (10:1)' : 'T cells + APCs + peptide + hMSC (5:1)'", "encode": {"symbols": {"update": {"fill": {"scale": "color", "field": "value"}, "fillOpacity": {"value": 1}}}}}}
  }},
 {"data": {"values": [{}]}, "mark": {"type": "rule", "strokeWidth": 2, "color": "black"}, "encoding": {"x": {"datum": -8.37}, "y": {"datum": -121.6}, "y2": {"datum": 216}}},
 {"data": {"values": [{}]}, "mark": {"type": "point", "shape": "triangle-up", "filled": true, "size": 55, "color": "black", "opacity": 1}, "encoding": {"x": {"datum": -8.37}, "y": {"datum": 218.5}}},
 {"data": {"values": [{}]}, "mark": {"type": "text", "text": "% of Max", "font": "Liberation Serif", "fontSize": 21, "angle": 270, "align": "center", "baseline": "middle"}, "encoding": {"x": {"datum": -12.9}, "y": {"datum": 32}}}
]},
{"width": 261, "height": 171, "layer": [
 {"data": {"name": "curves"}, "transform": [{"filter": "datum.panel === 'B2'"}], "mark": {"type": "line", "strokeWidth": 1.3},
  "encoding": {
   "x": {"field": "x", "type": "quantitative", "scale": {"domain": [0, 100], "nice": false, "zero": false}, "axis": {"title": "CD69 – PE-Cy7", "values": [2.27,4.42,6.18,7.67,8.96,10.09,11.11,17.8,21.71,24.49,26.64,28.4,29.89,31.18,32.32,33.33,40.02,43.94,46.71,48.87,50.62,52.11,53.4,54.54,55.56,62.25,66.16,68.94,71.09,72.84,74.33,75.62,76.77,77.78,84.47,88.38,91.16,93.31,95.07,96.55,97.84,98.99,100], "tickSize": {"condition": {"test": "datum.value === 11.11 || datum.value === 33.33 || datum.value === 55.56 || datum.value === 77.78 || datum.value === 100", "value": 6}, "value": 3.5}}},
   "y": {"field": "y", "type": "quantitative", "scale": {"domain": [0, 105], "nice": false}, "axis": {"title": null, "values": [0,4,8,12,16,20,24,28,32,36,40,44,48,52,56,60,64,68,72,76,80,84,88,92,96,100], "tickSize": {"condition": {"test": "datum.value % 20 === 0", "value": 6.5}, "value": 4}}},
   "color": {"field": "group", "type": "nominal", "scale": {"domain": ["T","P","H10","H5"], "range": ["#ff0000","#0000ff","#10e010","#ff7a00"]}, "legend": {"title": null, "orient": "none", "legendX": 126, "legendY": 617, "labelExpr": "datum.value === 'T' ? 'T cells' : datum.value === 'P' ? 'T cells + APCs + peptide' : datum.value === 'H10' ? 'T cells + APCs + peptide + hMSC (10:1)' : 'T cells + APCs + peptide + hMSC (5:1)'", "encode": {"symbols": {"update": {"fill": {"scale": "color", "field": "value"}, "fillOpacity": {"value": 1}}}}}}
  }}
]},
{"width": 263, "height": 171, "layer": [
 {"data": {"name": "curves"}, "transform": [{"filter": "datum.panel === 'A3'"}], "mark": {"type": "line", "strokeWidth": 1.3},
  "encoding": {
   "x": {"field": "x", "type": "quantitative", "scale": {"domain": [0, 100], "nice": false, "zero": false}, "axis": {"title": "CD62L - APC", "values": [2.27,4.42,6.18,7.67,8.96,10.09,11.11,17.8,21.71,24.49,26.64,28.4,29.89,31.18,32.32,33.33,40.02,43.94,46.71,48.87,50.62,52.11,53.4,54.54,55.56,62.25,66.16,68.94,71.09,72.84,74.33,75.62,76.77,77.78,84.47,88.38,91.16,93.31,95.07,96.55,97.84,98.99,100], "tickSize": {"condition": {"test": "datum.value === 11.11 || datum.value === 33.33 || datum.value === 55.56 || datum.value === 77.78 || datum.value === 100", "value": 6}, "value": 3.5}}},
   "y": {"field": "y", "type": "quantitative", "scale": {"domain": [0, 105], "nice": false}, "axis": {"title": null, "values": [0,4,8,12,16,20,24,28,32,36,40,44,48,52,56,60,64,68,72,76,80,84,88,92,96,100], "tickSize": {"condition": {"test": "datum.value % 20 === 0", "value": 6.5}, "value": 4}}},
   "color": {"field": "group", "type": "nominal", "scale": {"domain": ["T","P","H10","H5"], "range": ["#ff0000","#0000ff","#10e010","#ff7a00"]}, "legend": {"title": null, "orient": "none", "legendX": 126, "legendY": 617, "labelExpr": "datum.value === 'T' ? 'T cells' : datum.value === 'P' ? 'T cells + APCs + peptide' : datum.value === 'H10' ? 'T cells + APCs + peptide + hMSC (10:1)' : 'T cells + APCs + peptide + hMSC (5:1)'", "encode": {"symbols": {"update": {"fill": {"scale": "color", "field": "value"}, "fillOpacity": {"value": 1}}}}}}
  }}
]},
{"width": 261, "height": 171, "layer": [
 {"data": {"name": "curves"}, "transform": [{"filter": "datum.panel === 'B3'"}], "mark": {"type": "line", "strokeWidth": 1.3},
  "encoding": {
   "x": {"field": "x", "type": "quantitative", "scale": {"domain": [0, 100], "nice": false, "zero": false}, "axis": {"title": "CD62L - APC", "values": [2.27,4.42,6.18,7.67,8.96,10.09,11.11,17.8,21.71,24.49,26.64,28.4,29.89,31.18,32.32,33.33,40.02,43.94,46.71,48.87,50.62,52.11,53.4,54.54,55.56,62.25,66.16,68.94,71.09,72.84,74.33,75.62,76.77,77.78,84.47,88.38,91.16,93.31,95.07,96.55,97.84,98.99,100], "tickSize": {"condition": {"test": "datum.value === 11.11 || datum.value === 33.33 || datum.value === 55.56 || datum.value === 77.78 || datum.value === 100", "value": 6}, "value": 3.5}}},
   "y": {"field": "y", "type": "quantitative", "scale": {"domain": [0, 105], "nice": false}, "axis": {"title": null, "values": [0,4,8,12,16,20,24,28,32,36,40,44,48,52,56,60,64,68,72,76,80,84,88,92,96,100], "tickSize": {"condition": {"test": "datum.value % 20 === 0", "value": 6.5}, "value": 4}}},
   "color": {"field": "group", "type": "nominal", "scale": {"domain": ["T","P","H10","H5"], "range": ["#ff0000","#0000ff","#10e010","#ff7a00"]}, "legend": {"title": null, "orient": "none", "legendX": 126, "legendY": 617, "labelExpr": "datum.value === 'T' ? 'T cells' : datum.value === 'P' ? 'T cells + APCs + peptide' : datum.value === 'H10' ? 'T cells + APCs + peptide + hMSC (10:1)' : 'T cells + APCs + peptide + hMSC (5:1)'", "encode": {"symbols": {"update": {"fill": {"scale": "color", "field": "value"}, "fillOpacity": {"value": 1}}}}}}
  }}
]}
],
"config": {
 "view": {"stroke": "#1a1a1a", "strokeWidth": 1.2},
 "axis": {"domain": false, "labels": false, "grid": false, "ticks": true, "tickColor": "black", "tickWidth": 1.2, "titleFont": "Liberation Sans", "titleFontSize": 17, "titleFontWeight": "normal", "titleColor": "black", "titlePadding": 1},
 "legend": {"symbolType": "square", "symbolSize": 272, "symbolStrokeWidth": 1, "labelFont": "Liberation Sans", "labelFontSize": 19, "labelColor": "black", "labelLimit": 500, "rowPadding": 3.8, "labelOffset": 3, "padding": 0}
}
}
